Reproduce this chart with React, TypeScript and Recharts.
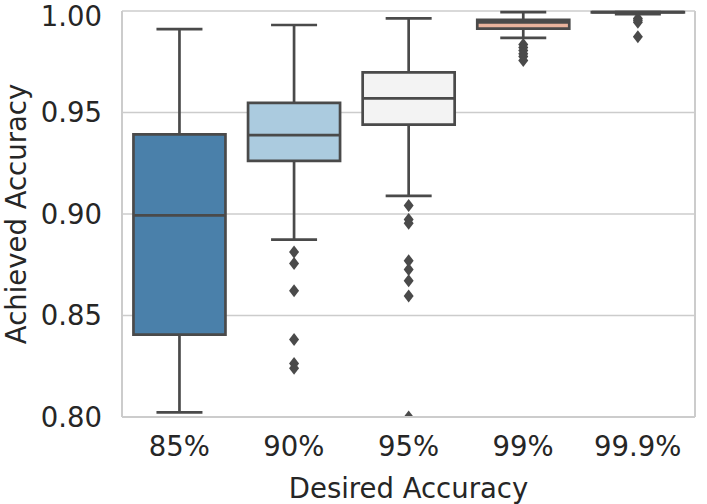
import { Bar, CartesianGrid, ComposedChart, Label, XAxis, YAxis } from "recharts";

const categories = ["85%", "90%", "95%", "99%", "99.9%"];
const whiskerLow = [0.8023, 0.8874, 0.9089, 0.9868, 0.9984];
const q1 = [0.8406, 0.9262, 0.944, 0.9913, 0.9993];
const median = [0.8993, 0.9389, 0.957, 0.9944, 0.9994];
const q3 = [0.9392, 0.9547, 0.9698, 0.9956, 0.9994];
const whiskerHigh = [0.9911, 0.9931, 0.9964, 0.9994, 0.9995];
const outliers = [
  [],
  [0.8813, 0.8756, 0.8622, 0.8382, 0.8264, 0.824],
  [0.9042, 0.8973, 0.8954, 0.877, 0.8727, 0.8671, 0.8596, 0.8],
  [0.9835, 0.982, 0.9805, 0.979, 0.9776, 0.9756],
  [0.9963, 0.9955, 0.9945, 0.9873],
];
const boxColors = ["#4a80aa", "#abcbdf", "#f3f3f3", "#e9b39d", "#c05a4e"];
const yTicks = [0.8, 0.85, 0.9, 0.95, 1.0];

const Y_MIN = 0.8;
const Y_MAX = 1.0;
const LINE = "#4a4a4a";
const TEXT = "#262626";
const FONT = "DejaVu Sans";
const SW = 2.7;

const rows = categories.map((cat, i) => {
  const all = [whiskerLow[i], whiskerHigh[i], ...outliers[i]];
  return {
    cat,
    extent: [Math.min(...all), Math.max(...all)],
    low: whiskerLow[i],
    q1: q1[i],
    median: median[i],
    q3: q3[i],
    high: whiskerHigh[i],
    outliers: outliers[i],
    fill: boxColors[i],
  };
});

function BoxShape(props: any) {
  const { x, y, width, height, payload, index } = props;
  const [lo, hi] = payload.extent;
  const top = Math.min(y, y + height);
  const h = Math.abs(height);
  // map a value to pixels using the bar's own scaled extent
  const py = (v: number) => top + ((hi - v) / (hi - lo)) * h;
  const cx = x + width / 2;
  const cap = width / 4;
  const yq1 = py(payload.q1);
  const yq3 = py(payload.q3);
  const clipId = `box-clip-${index}`;
  return (
    <g>
      <defs>
        <clipPath id={clipId}>
          <rect x={x - 20} y={py(Y_MAX)} width={width + 40} height={py(Y_MIN) - py(Y_MAX)} />
        </clipPath>
      </defs>
      <line x1={cx} x2={cx} y1={py(payload.high)} y2={yq3} stroke={LINE} strokeWidth={SW} />
      <line x1={cx} x2={cx} y1={yq1} y2={py(payload.low)} stroke={LINE} strokeWidth={SW} />
      <line x1={cx - cap} x2={cx + cap} y1={py(payload.high)} y2={py(payload.high)} stroke={LINE} strokeWidth={SW} />
      <line x1={cx - cap} x2={cx + cap} y1={py(payload.low)} y2={py(payload.low)} stroke={LINE} strokeWidth={SW} />
      <path
        d={`M${x},${yq3} H${x + width} V${yq1} H${x} Z`}
        fill={payload.fill}
        stroke={LINE}
        strokeWidth={SW}
      />
      <line x1={x} x2={x + width} y1={py(payload.median)} y2={py(payload.median)} stroke={LINE} strokeWidth={SW} />
      <g clipPath={`url(#${clipId})`}>
        {payload.outliers.map((v: number, k: number) => {
          const cy = py(v);
          return (
            <polygon
              key={k}
              points={`${cx},${cy - 6.5} ${cx + 5},${cy} ${cx},${cy + 6.5} ${cx - 5},${cy}`}
              fill={LINE}
            />
          );
        })}
      </g>
    </g>
  );
}

export default function App() {
  const tickStyle = { fontSize: 27.5, fill: TEXT, fontFamily: FONT };
  return (
    <div style={{ position: "absolute", left: 0, top: 0 }}>
      <ComposedChart
        width={707}
        height={504}
        data={rows}
        margin={{ top: 11, right: 0, bottom: 0, left: 0 }}
        barCategoryGap="10%"
      >
        <CartesianGrid vertical={false} stroke="#cccccc" strokeWidth={1.5} />
        <XAxis
          dataKey="cat"
          height={87}
          tickLine={false}
          tickSize={6}
          tickMargin={13.5}
          axisLine={{ stroke: "#cccccc", strokeWidth: 2 }}
          tick={tickStyle}
        >
          <Label
            content={(p: any) => {
              const vb = p.viewBox || { x: 122, y: 417, width: 573 };
              return (
                <text x={vb.x + vb.width / 2} y={498} textAnchor="middle" fontSize={27.5} fill={TEXT} fontFamily={FONT}>
                  Desired Accuracy
                </text>
              );
            }}
          />
        </XAxis>
        <YAxis
          width={122}
          domain={[Y_MIN, Y_MAX]}
          ticks={yTicks}
          tickFormatter={(v: number) => v.toFixed(2)}
          tickLine={false}
          tickSize={8}
          tickMargin={12}
          axisLine={{ stroke: "#cccccc", strokeWidth: 2 }}
          tick={tickStyle}
        >
          <Label
            content={(p: any) => {
              const vb = p.viewBox || { y: 11, height: 406 };
              const cy = vb.y + vb.height / 2;
              return (
                <text
                  x={26}
                  y={cy}
                  transform={`rotate(-90, 26, ${cy})`}
                  textAnchor="middle"
                  fontSize={27.5}
                  fill={TEXT}
                  fontFamily={FONT}
                >
                  Achieved Accuracy
                </text>
              );
            }}
          />
        </YAxis>
        <YAxis
          yAxisId="r"
          orientation="right"
          width={12}
          domain={[Y_MIN, Y_MAX]}
          tick={false}
          tickLine={false}
          axisLine={{ stroke: "#cccccc", strokeWidth: 2 }}
        />
        <Bar dataKey="extent" shape={BoxShape} isAnimationActive={false} />
      </ComposedChart>
    </div>
  );
}
